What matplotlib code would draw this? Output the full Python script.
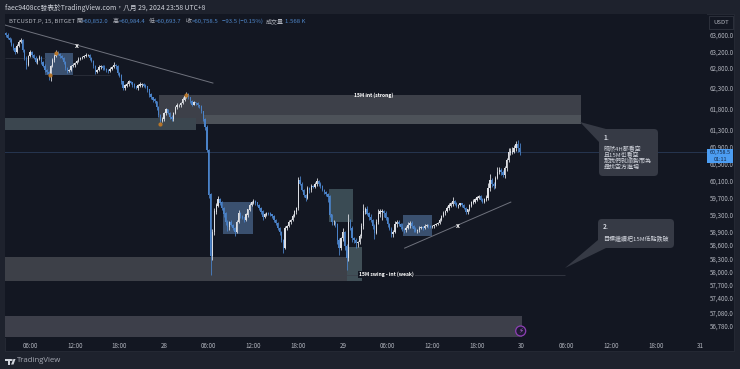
import matplotlib
matplotlib.use('Agg')
import matplotlib.pyplot as plt
from matplotlib.patches import Rectangle, FancyBboxPatch, Polygon, Circle
from matplotlib.ticker import NullLocator, NullFormatter
from matplotlib.transforms import IdentityTransform

plt.rcParams['font.family'] = ['Noto Sans CJK TC', 'DejaVu Sans']

W, H = 740, 369
BG = '#131722'
PANEL = '#1e222d'
UP = '#dcdee3'
DOWN = '#4a82c8'
TXT = '#b2b5be'

# closes of the 15m candles, first one is 27 Aug 02:45
closes = [
    63600, 63525, 63475, 63350, 63280, 63180, 63330, 63430, 63475, 63230, 63035, 62860, 63080, 63180, 63105, 63035,
    62935, 63010, 63060, 62935, 62840, 62740, 62690, 62645, 62840, 62985, 63080, 63155, 63130, 63080, 63035, 62935,
    62790, 62715, 62740, 62835, 62860, 62910, 62960, 63010, 63035, 63060, 63080, 63105, 63105, 63035, 62960, 62835,
    62690, 62740, 62815, 62835, 62790, 62765, 62740, 62715, 62765, 62815, 62860, 62835, 62665, 62600, 62450, 62300,
    62355, 62400, 62450, 62430, 62380, 62330, 62305, 62355, 62380, 62400, 62355, 62330, 62260, 62140, 62070, 62020,
    61975, 61830, 61640, 61500, 61545, 61690, 61780, 61690, 61595, 61545, 61690, 61830, 61880, 61880, 61930, 62020,
    62090, 62140, 62070, 61975, 61900, 61950, 61925, 61880, 61855, 61735, 61545, 61360, 60816, 59760, 58350, 58900,
    59365, 59505, 59645, 59575, 59455, 59320, 59130, 59010, 59130, 59060, 58990, 58895, 59130, 59340, 59270, 59225,
    59175, 59295, 59410, 59525, 59575, 59600, 59575, 59525, 59455, 59365, 59245, 59295, 59340, 59320, 59295, 59270,
    59175, 59105, 58990, 58895, 58715, 58535, 58990, 59035, 59130, 59175, 59270, 59365, 59455, 60105, 60010, 59870,
    59755, 59690, 59915, 59870, 59965, 59940, 60010, 60080, 60010, 59965, 59870, 59825, 59780, 59715, 59295, 59130,
    59130, 59085, 58715, 58535, 58760, 58895, 58580, 58305, 59130, 58990, 58760, 58715, 58650, 58670, 58805, 59035,
    59365, 59410, 59320, 59245, 59175, 59035, 58875, 59130, 59320, 59365, 59385, 59340, 59225, 59085, 58965, 58850,
    58895, 59085, 59130, 59085, 59010, 58965, 58940, 58990, 59060, 59105, 59035, 58965, 58920, 58940, 58990, 59010,
    58990, 59035, 59060, 59035, 59010, 59035, 59060, 59085, 59105, 59175, 59270, 59340, 59385, 59455, 59505, 59550,
    59600, 59550, 59505, 59525, 59550, 59525, 59455, 59365, 59410, 59505, 59575, 59600, 59645, 59690, 59715, 59645,
    59600, 59645, 59690, 59915, 60105, 60010, 59965, 60150, 60290, 60340, 60290, 60220, 60385, 60575, 60745, 60770,
    60770, 60860, 60935, 60852, 60758.5,
]
first_open = 63640

# wick lengths above / below the body
wick_up = [
    30, 40, 30, 60, 40, 20, 50, 40, 60, 30, 20, 40, 30, 50, 20, 30,
    40, 30, 50, 30, 20, 40, 30, 20, 30, 40, 60, 70, 40, 30, 30, 20,
    30, 20, 30, 30, 40, 30, 20, 40, 30, 20, 30, 40, 30, 20, 30, 20,
    20, 30, 40, 20, 30, 60, 20, 30, 40, 30, 70, 30, 20, 30, 40, 20,
    30, 40, 50, 30, 20, 40, 30, 50, 70, 30, 20, 40, 30, 20, 40, 20,
    30, 20, 30, 20, 50, 40, 30, 20, 40, 60, 30, 40, 50, 40, 30, 50,
    40, 70, 30, 20, 30, 40, 20, 30, 20, 30, 20, 30, 40, 30, 30, 60,
    80, 60, 90, 40, 30, 30, 40, 50, 30, 40, 30, 30, 40, 70, 30, 20,
    30, 40, 30, 40, 50, 70, 30, 20, 30, 20, 30, 40, 30, 20, 30, 20,
    30, 20, 30, 20, 30, 20, 40, 30, 40, 30, 50, 40, 30, 60, 90, 40,
    30, 20, 50, 30, 40, 30, 50, 70, 30, 40, 30, 20, 30, 20, 40, 30,
    40, 30, 30, 40, 30, 90, 30, 40, 190, 60, 50, 30, 40, 30, 50, 60,
    180, 60, 90, 40, 60, 30, 50, 70, 120, 60, 50, 30, 40, 30, 30, 40,
    40, 70, 50, 40, 30, 90, 30, 40, 60, 50, 40, 30, 50, 30, 40, 30,
    30, 40, 30, 30, 20, 30, 30, 20, 30, 40, 30, 40, 30, 50, 70, 40,
    100, 30, 40, 20, 30, 30, 20, 30, 30, 40, 40, 60, 30, 50, 40, 30,
    30, 40, 60, 120, 150, 40, 60, 60, 110, 80, 40, 40, 60, 50, 110, 100,
    120, 60, 80, 110, 132.4,
]
wick_down = [
    40, 30, 50, 20, 50, 60, 20, 30, 30, 40, 50, 90, 30, 20, 40, 30,
    30, 50, 30, 40, 30, 40, 60, 150, 180, 30, 40, 30, 30, 40, 30, 40,
    50, 40, 20, 30, 20, 40, 30, 20, 30, 30, 20, 20, 30, 40, 30, 50,
    60, 30, 20, 40, 60, 30, 50, 40, 20, 30, 30, 70, 60, 40, 50, 40,
    50, 30, 40, 30, 50, 30, 40, 60, 30, 50, 30, 40, 50, 70, 40, 50,
    50, 60, 40, 80, 30, 40, 50, 30, 40, 30, 40, 30, 40, 30, 30, 20,
    30, 40, 30, 40, 30, 20, 40, 30, 50, 30, 50, 60, 60, 80, 430, 80,
    60, 40, 30, 50, 60, 80, 60, 90, 60, 30, 40, 90, 30, 30, 40, 30,
    40, 30, 40, 30, 30, 40, 50, 30, 40, 50, 60, 30, 30, 40, 30, 40,
    40, 50, 40, 60, 50, 120, 30, 40, 30, 40, 30, 30, 40, 60, 30, 30,
    50, 70, 30, 60, 40, 30, 30, 40, 50, 40, 30, 50, 40, 120, 60, 70,
    60, 80, 90, 170, 50, 60, 90, 280, 60, 50, 80, 60, 120, 90, 40, 50,
    60, 50, 40, 60, 40, 70, 130, 30, 40, 80, 180, 90, 40, 70, 30, 60,
    70, 30, 60, 40, 50, 40, 70, 40, 30, 60, 40, 60, 30, 50, 40, 30,
    40, 30, 30, 40, 30, 30, 40, 30, 30, 20, 30, 30, 40, 30, 50, 30,
    40, 30, 40, 50, 30, 40, 30, 60, 40, 30, 40, 30, 30, 40, 30, 30,
    40, 30, 40, 50, 60, 70, 80, 40, 30, 50, 60, 50, 60, 60, 50, 60,
    50, 40, 60, 90, 64.8,
]

price_ticks = [63600, 63200, 62800, 62300, 61800, 61300, 60900, 60500, 60100, 59700,
               59300, 58900, 58600, 58300, 58000, 57700, 57400, 57080, 56780]
time_ticks = [6, 12, 18, 24, 30, 36, 42, 48, 54, 60, 66, 72, 78, 84, 90, 96]
time_labels = ['06:00', '12:00', '18:00', '28', '06:00', '12:00', '18:00', '29',
               '06:00', '12:00', '18:00', '30', '06:00', '12:00', '18:00', '31']

# start hour, end hour, low, high, colour
zones = [
    (23.3, 79.96, 61431, 62130, '#3d4049'),
    (29.2, 79.96, 61431, 61640, '#4d5259'),
    (2.64, 28.3, 61292, 61564, '#3b464f'),
    (2.64, 50.56, 57786, 58328, '#3d4048'),
    (2.64, 72.04, 56530, 57004, '#3d3f4a'),
    (8.0, 11.77, 62610, 63155, '#3a506f'),
    (31.9, 35.9, 58855, 59600, '#3a506f'),
    (56.07, 59.96, 58810, 59292, '#3a506f'),
    (46.1, 49.35, 59130, 59895, '#3a4b54'),
    (48.55, 50.56, 57786, 58556, '#404f57'),
]
trend_down = ([2.64, 30.56], [63848, 62420])
trend_up = ([56.3, 70.56], [58530, 59590])
orange_h = [9.5, 8.7, 26.9, 23.45]
orange_p = [63155, 62620, 62140, 61431]


def px(x, y):
    return x, H - y


fig = plt.figure(figsize=(W / 100, H / 100), dpi=100, facecolor=PANEL)
fig.add_artist(Rectangle((5 / W, 1 - 351 / H), 729 / W, 337 / H, transform=fig.transFigure,
                         facecolor=BG, edgecolor='#2a2e39', linewidth=0.5, zorder=-1))
ax = fig.add_axes([5 / W, 1 - 338 / H, 702 / W, 324 / H], facecolor=BG)
ax.set_yscale('log')
ax.set_xlim(2.64, 96.9)
ax.set_ylim(56515, 64123)
for s in ax.spines.values():
    s.set_visible(False)

for x0, x1, lo, hi, c in zones:
    ax.add_patch(Rectangle((x0, lo), x1 - x0, hi - lo, facecolor=c, edgecolor='none', zorder=1))

ax.axhline(closes[-1], color='#263550', lw=0.7, zorder=1.5)
ax.hlines(63030, 2.64, 8.0, color='#2c303b', lw=0.6, zorder=1.5)
ax.hlines(62610, 11.77, 16.7, color='#2c303b', lw=0.6, zorder=1.5)
ax.hlines(57930, 30.3, 77.8, color='#3c404b', lw=0.5, zorder=1.5)

opens = [first_open] + closes[:-1]
for i, (o, c, u, d) in enumerate(zip(opens, closes, wick_up, wick_down)):
    t = 2.75 + i * 0.25
    col = UP if c >= o else DOWN
    ax.vlines(t, min(o, c) - d, max(o, c) + u, color=col, lw=0.6, zorder=3)
    ax.bar(t, abs(c - o) + 8, bottom=min(o, c), width=0.17, color=col, linewidth=0, zorder=3)

ax.plot(*trend_down, color='#6f727d', lw=0.7, zorder=4)
ax.plot(*trend_up, color='#6f727d', lw=0.7, zorder=4)
ax.scatter(orange_h, orange_p, s=9, color='#b5752a', linewidths=0, zorder=5)

ax.text(12.3, 63350, 'x', color='white', fontsize=5, fontweight='bold', ha='center', va='center', zorder=6)
ax.text(63.4, 59060, 'x', color='white', fontsize=5, fontweight='bold', ha='center', va='center', zorder=6)
ax.text(52.2, 62130, '15M int (strong)', color='white', fontsize=3.6, fontweight='bold', ha='center', va='center', zorder=6)
ax.text(53.9, 57930, '15M swing - int (weak)', color='white', fontsize=3.6, fontweight='bold', ha='center', va='center', zorder=6,
        bbox=dict(facecolor=BG, edgecolor='none', pad=0.8))

ax.yaxis.tick_right()
ax.set_yticks(price_ticks)
ax.set_yticklabels([f'{p:,.1f}' for p in price_ticks], fontsize=4.5, color=TXT)
ax.yaxis.set_minor_locator(NullLocator())
ax.yaxis.set_minor_formatter(NullFormatter())
ax.set_xticks(time_ticks)
ax.set_xticklabels(time_labels, fontsize=4.5, color=TXT)
ax.tick_params(axis='both', length=0)
ax.tick_params(axis='y', pad=2)
ax.tick_params(axis='x', pad=3)

# callouts, drawn in pixels
ident = IdentityTransform()
CALL = '#363a45'
fig.add_artist(Polygon([px(580, 122), px(606, 129), px(599, 142)], transform=ident, facecolor=CALL, edgecolor='none'))
fig.add_artist(FancyBboxPatch(px(602, 173), 53, 41, boxstyle='round,pad=3,rounding_size=4', transform=ident,
                              facecolor=CALL, edgecolor='none'))
fig.add_artist(Polygon([px(565, 268), px(598, 240), px(606, 248)], transform=ident, facecolor=CALL, edgecolor='none'))
fig.add_artist(FancyBboxPatch(px(601, 245), 70, 23, boxstyle='round,pad=3,rounding_size=4', transform=ident,
                              facecolor=CALL, edgecolor='none'))


def label(x, y, s, size=5, color='#d1d4dc', ha='left', **kw):
    fig.text(x / W, 1 - y / H, s, fontsize=size, color=color, ha=ha, va='center', **kw)


label(604, 137, '1.', 4.6, fontweight='bold')
label(604, 149, '既然4H都看空', 4.3)
label(604, 155, '且15M也看空', 4.3)
label(604, 161, '那我們就順勢而為', 4.3)
label(604, 167, '尋找空方進場', 4.3)
label(603, 226.5, '2.', 4.6, fontweight='bold')
label(603, 239, '目標繼續把15M低點跌破', 4.3)

# header and ohlc legend
label(5, 7.5, 'faec9408cc發表於TradingView.com，八月 29, 2024 23:58 UTC+8', 4.9)
BLUE = '#4f86c9'
label(9, 21.5, 'BTCUSDT.P, 15, BITGET', 4.3, TXT)
for x, k, v in [(76, '開', '=60,852.0'), (113, '高', '=60,984.4'), (149, '低', '=60,693.7'), (186, '收', '=60,758.5')]:
    label(x, 21.5, k, 4.3, TXT)
    label(x + 6, 21.5, v, 4.3, BLUE)
label(222, 21.5, '−93.5 (−0.15%)', 4.3, BLUE)
label(266, 21.5, '成交量', 4.3, TXT)
label(285, 21.5, '1.568 K', 4.3, BLUE)

# price scale widgets
fig.add_artist(Rectangle(px(709, 29), 24, 13, transform=ident, facecolor=BG, edgecolor='#363a45', linewidth=0.5))
label(721, 22, 'USDT', 4.3, TXT, ha='center')
fig.add_artist(Rectangle(px(707, 163), 26, 14, transform=ident, facecolor='#4c9df2', edgecolor='none', zorder=4))
fig.text(720 / W, 1 - 152.7 / H, '60,758.5', fontsize=3.9, color='#12233f', ha='center', va='center', zorder=5)
fig.text(720 / W, 1 - 159.2 / H, '01:11', fontsize=3.9, color='#12233f', ha='center', va='center', zorder=5)

# lightning marker
fig.add_artist(Circle(px(520.7, 331), 5, transform=ident, facecolor='#1f1a33', edgecolor='#8e3fb5', linewidth=0.9))
label(520.7, 331, '⚡', 5, '#b06ad0', ha='center')

# logo
fig.add_artist(Rectangle(px(5, 361), 6, 2.2, transform=ident, facecolor='#d1d4dc', edgecolor='none'))
fig.add_artist(Rectangle(px(7.5, 364.5), 2.5, 5.5, transform=ident, facecolor='#d1d4dc', edgecolor='none'))
fig.add_artist(Circle(px(11.7, 360), 1, transform=ident, facecolor='#d1d4dc', edgecolor='none'))
fig.add_artist(Polygon([px(11, 364.5), px(13.5, 359), px(15.5, 359), px(13.5, 364.5)], transform=ident,
                       facecolor='#d1d4dc', edgecolor='none'))
label(17, 360.5, 'TradingView', 5.6, '#a5a8b2', fontfamily='Open Sans')

fig.savefig('out.png', dpi=100, facecolor=PANEL)
print(len(closes), len(wick_up), len(wick_down))
